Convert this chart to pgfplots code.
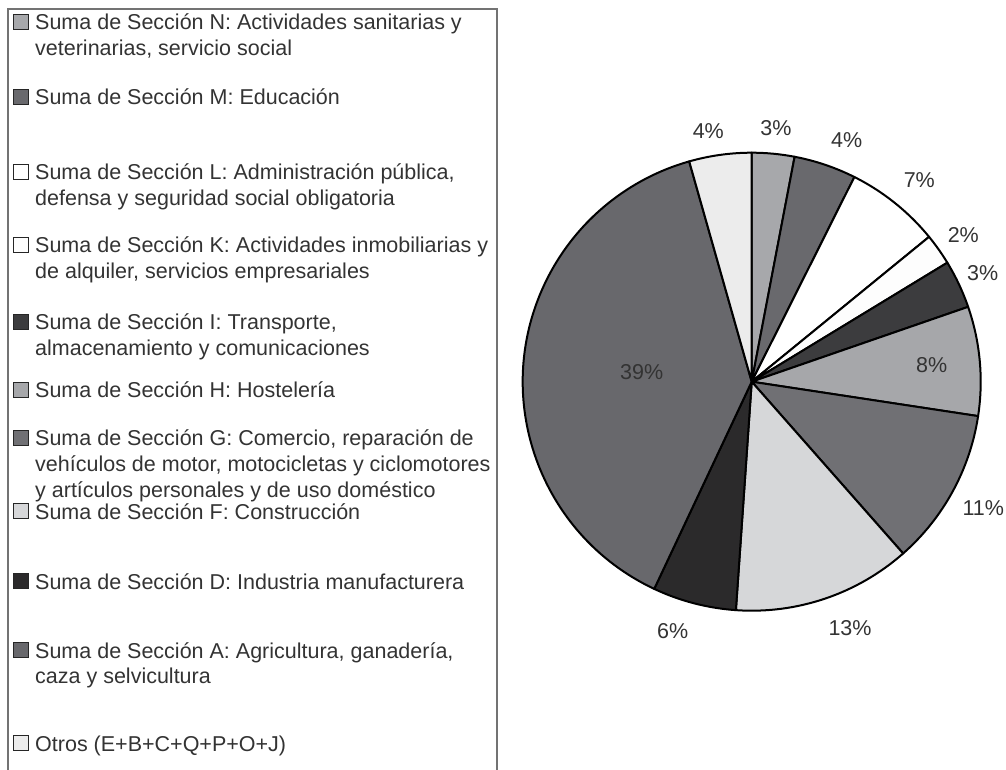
\documentclass[border=0pt]{standalone}
\usepackage{fontspec}
\setmainfont{Liberation Sans}
\usepackage{pgfplots}
\usepackage{pgfplotstable}
\pgfplotsset{compat=1.18}

\definecolor{cN}{HTML}{A7A8AB}
\definecolor{cM}{HTML}{69696D}
\definecolor{cL}{HTML}{FFFFFF}
\definecolor{cK}{HTML}{FDFDFD}
\definecolor{cI}{HTML}{3C3C3E}
\definecolor{cH}{HTML}{A6A7AA}
\definecolor{cG}{HTML}{707074}
\definecolor{cF}{HTML}{D6D7D9}
\definecolor{cD}{HTML}{2B2A2B}
\definecolor{cA}{HTML}{68686C}
\definecolor{cO}{HTML}{ECECEC}
\definecolor{txt}{HTML}{333333}

% pie shares (percent), clockwise from 12 o'clock
\pgfplotstableread{
name value color
N 3.0 cN
M 4.4 cM
L 6.7 cL
K 2.2 cK
I 3.4 cI
H 7.7 cH
G 11.1 cG
F 12.6 cF
D 5.9 cD
A 38.6 cA
O 4.4 cO
}\piedata

% data labels (position, shown percent)
\pgfplotstableread{
x y lab
776.0 640.7 3
708.3 638.3 4
846.7 629.0 4
919.3 589.0 7
963.3 534.0 2
982.7 495.7 3
931.7 404.0 8
641.7 397.3 39
983.3 260.7 11
850.0 140.7 13
672.7 138.3 6
}\labdata

\newcommand{\fs}{\fontsize{21.5}{26}\selectfont}

\begin{document}
\begin{tikzpicture}[x=1pt,y=1pt]
\clip (0,0) rectangle (1006,769);
\useasboundingbox (0,0) rectangle (1006,769);
\begin{axis}[
  x=1pt, y=1pt,
  xmin=0, xmax=1006, ymin=0, ymax=769,
  hide axis, clip=false,
  anchor=south west, at={(0,0)},
]
\def\angStart{90}
\pgfplotsforeachungrouped \i in {0,...,10}{%
  \pgfplotstablegetelem{\i}{value}\of\piedata \let\vv\pgfplotsretval
  \pgfplotstablegetelem{\i}{color}\of\piedata \let\cc\pgfplotsretval
  \pgfmathsetmacro\angEnd{\angStart-3.6*\vv}%
  \edef\cmd{\noexpand\filldraw[fill=\cc,draw=black,line width=2pt,line join=round]
    (axis cs:751.7,387.3) -- ++(\angStart:229pt)
    arc[start angle=\angStart,end angle=\angEnd,radius=229pt] -- cycle;}%
  \cmd
  \global\let\angStart\angEnd
}
\addplot[draw=none, mark=none,
  nodes near coords={\pgfplotspointmeta\%},
  nodes near coords align={center},
  every node near coord/.append style={font=\fs, text=txt, inner sep=0pt},
  point meta=explicit symbolic]
  table[x=x, y=y, meta=lab] {\labdata};
\end{axis}

% legend box (cut off at the bottom, as in the reference)
\draw[draw=black!55, line width=1.5pt] (8,-10) -- (8,760) -- (497,760) -- (497,-10);

\def\sw#1#2{\filldraw[fill=#2, draw=black!85, line width=1.5pt] (13.5,{769-#1-7.5}) rectangle (28.5,{769-#1+7.5});}
\def\tl#1#2{\node[anchor=base west, inner sep=0pt, font=\fs, text=txt] at (35,{769-#1-8}) {#2};}

\sw{22}{cN}\tl{22}{Suma de Sección N: Actividades sanitarias y}
\tl{48}{veterinarias, servicio social}
\sw{97}{cM}\tl{97}{Suma de Sección M: Educación}
\sw{172}{cL}\tl{172}{Suma de Sección L: Administración pública,}
\tl{197.5}{defensa y seguridad social obligatoria}
\sw{245}{cK}\tl{245}{Suma de Sección K: Actividades inmobiliarias y}
\tl{270.5}{de alquiler, servicios empresariales}
\sw{322}{cI}\tl{322}{Suma de Sección I: Transporte,}
\tl{347.5}{almacenamiento y comunicaciones}
\sw{390}{cH}\tl{390}{Suma de Sección H: Hostelería}
\sw{438}{cG}\tl{438}{Suma de Sección G: Comercio, reparación de}
\tl{463.5}{vehículos de motor, motocicletas y ciclomotores}
\tl{489}{y artículos personales y de uso doméstico}
\sw{511}{cF}\tl{511}{Suma de Sección F: Construcción}
\sw{581}{cD}\tl{581}{Suma de Sección D: Industria manufacturera}
\sw{650}{cA}\tl{650}{Suma de Sección A: Agricultura, ganadería,}
\tl{675.5}{caza y selvicultura}
\sw{743}{cO}\tl{743}{Otros (E+B+C+Q+P+O+J)}
\end{tikzpicture}
\end{document}
